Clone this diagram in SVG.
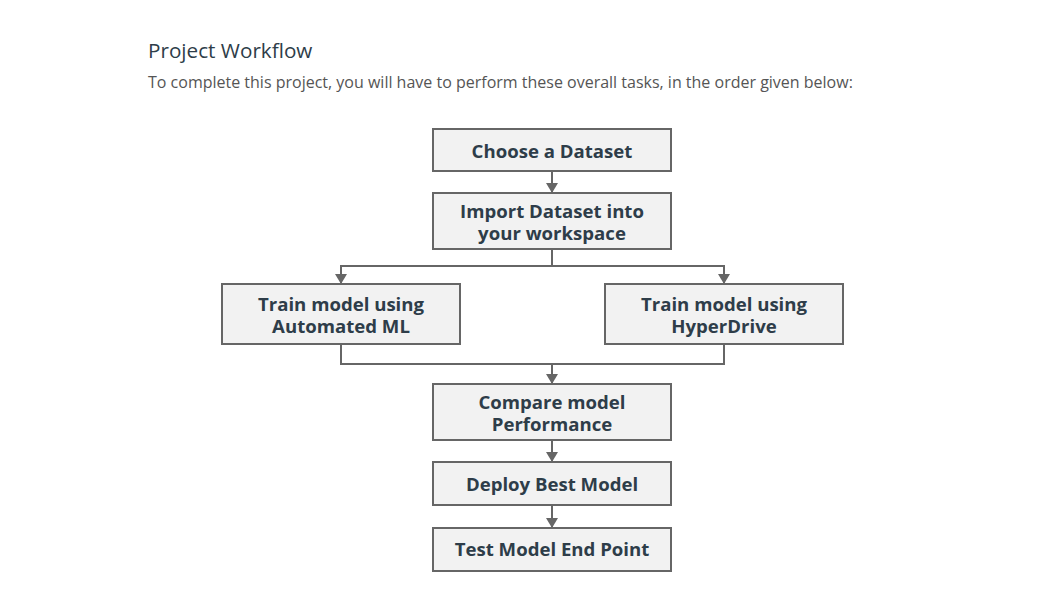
<svg xmlns="http://www.w3.org/2000/svg" width="1060" height="597" viewBox="0 0 1060 597">
<style>
.box{fill:#f2f2f2;stroke:#666;stroke-width:2}
.lbl{font-family:"Open Sans","Noto Sans",sans-serif;font-weight:bold;font-size:18.6px;fill:#2e3d49;text-anchor:middle}
.conn{fill:none;stroke:#666;stroke-width:2}
</style>
<defs>
<marker id="ah" viewBox="0 0 10 12" refX="10" refY="6" markerWidth="10" markerHeight="12" orient="auto" markerUnits="userSpaceOnUse">
<path d="M0,0 L10,6 L0,12 z" fill="#666"/>
</marker>
</defs>
<rect width="1060" height="597" fill="#fff"/>
<text x="148" y="58" font-family="'Open Sans','Noto Sans',sans-serif" font-size="20.7" fill="#2e3d49">Project Workflow</text>
<text x="148" y="88" font-family="'Open Sans','Noto Sans',sans-serif" font-size="16" fill="#555">To complete this project, you will have to perform these overall tasks, in the order given below:</text>
<g id="connectors">
<path class="conn" d="M552,171 V193" marker-end="url(#ah)"/>
<path class="conn" d="M552,249 V266 H341 V284" marker-end="url(#ah)"/>
<path class="conn" d="M552,266 H724 V284" marker-end="url(#ah)"/>
<path class="conn" d="M341,344 V364 H724 V344"/>
<path class="conn" d="M552,364 V384" marker-end="url(#ah)"/>
<path class="conn" d="M552,440 V462" marker-end="url(#ah)"/>
<path class="conn" d="M552,505 V528" marker-end="url(#ah)"/>
</g>
<g id="choose"><rect class="box" x="433" y="129" width="238" height="42"/><text class="lbl" x="552" y="158">Choose a Dataset</text></g>
<g id="import"><rect class="box" x="433" y="193" width="238" height="56"/><text class="lbl" x="552" y="218">Import Dataset into</text><text class="lbl" x="552" y="240">your workspace</text></g>
<g id="automl"><rect class="box" x="222" y="284" width="238" height="60"/><text class="lbl" x="341" y="311">Train model using</text><text class="lbl" x="341" y="333">Automated ML</text></g>
<g id="hyperdrive"><rect class="box" x="605" y="284" width="238" height="60"/><text class="lbl" x="724" y="311">Train model using</text><text class="lbl" x="724" y="333">HyperDrive</text></g>
<g id="compare"><rect class="box" x="433" y="384" width="238" height="56"/><text class="lbl" x="552" y="409">Compare model</text><text class="lbl" x="552" y="431">Performance</text></g>
<g id="deploy"><rect class="box" x="433" y="462" width="238" height="43"/><text class="lbl" x="552" y="491">Deploy Best Model</text></g>
<g id="test"><rect class="box" x="433" y="528" width="238" height="43"/><text class="lbl" x="552" y="556">Test Model End Point</text></g>
</svg>
